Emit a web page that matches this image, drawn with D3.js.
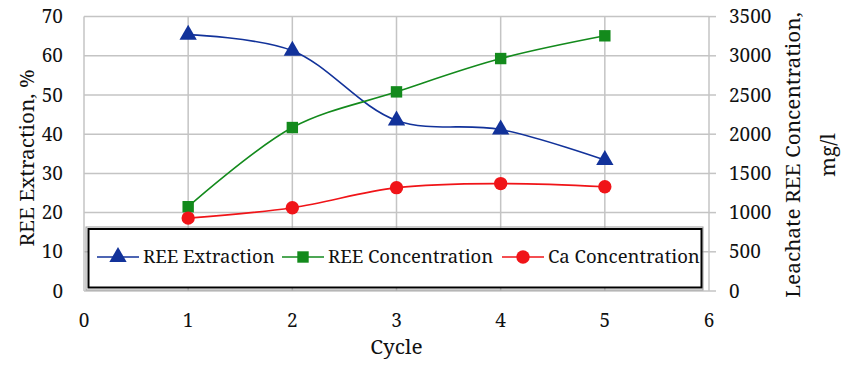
<!DOCTYPE html>
<html><head><meta charset="utf-8">
<script src="https://cdn.jsdelivr.net/npm/d3@7"></script>
<style>body{margin:0;background:#fff}svg{display:block}</style>
</head><body><svg id="c" width="841" height="369"></svg>
<script>
const cycles = [1, 2, 3, 4, 5];
const reeExtraction = [65.4, 61.3, 43.5, 41.2, 33.4];
const reeConcentration = [1075, 2085, 2540, 2965, 3255];
const caConcentration = [930, 1062, 1318, 1370, 1330];
const xTicks = [0, 1, 2, 3, 4, 5, 6];
const yLeftTicks = [0, 10, 20, 30, 40, 50, 60, 70];
const yRightTicks = [0, 500, 1000, 1500, 2000, 2500, 3000, 3500];
const seriesNames = ["REE Extraction", "REE Concentration", "Ca Concentration"];
const colors = ["#12329a", "#138a1c", "#f01418"];

const FONT = "'Noto Serif', 'Liberation Serif', serif";
const svg = d3.select("#c").attr("font-family", FONT);
const L = 84, R = 709, T = 16.6, B = 291;
const x = d3.scaleLinear().domain([0, 6]).range([L, R]);
const yL = d3.scaleLinear().domain([0, 70]).range([B, T]);
const yR = d3.scaleLinear().domain([0, 3500]).range([B, T]);
const grid = "#c4c4c4";

svg.append("g").selectAll("line").data(yLeftTicks).join("line")
  .attr("x1", L).attr("x2", R).attr("y1", d => yL(d)).attr("y2", d => yL(d))
  .attr("stroke", grid).attr("stroke-width", 1.5);
svg.append("g").selectAll("line").data(xTicks).join("line")
  .attr("x1", d => x(d)).attr("x2", d => x(d)).attr("y1", T).attr("y2", B)
  .attr("stroke", grid).attr("stroke-width", 1.5);
svg.append("g").selectAll("line").data(yRightTicks).join("line")
  .attr("x1", R).attr("x2", R + 7).attr("y1", d => yR(d)).attr("y2", d => yR(d))
  .attr("stroke", grid).attr("stroke-width", 1.5);

function txt(sel, size) { return sel.attr("font-family", FONT).attr("font-size", size).attr("fill", "#111"); }
const fsTick = 19, fsTitle = 20.8, fsLeg = 18.5;

txt(svg.append("g").selectAll("text").data(yLeftTicks).join("text"), fsTick)
  .attr("x", 63).attr("y", d => yL(d)).attr("dy", "0.35em").attr("text-anchor", "end").text(d => d);
txt(svg.append("g").selectAll("text").data(yRightTicks).join("text"), fsTick)
  .attr("x", 729).attr("y", d => yR(d)).attr("dy", "0.35em").attr("text-anchor", "start").text(d => d);
txt(svg.append("g").selectAll("text").data(xTicks).join("text"), fsTick)
  .attr("x", d => x(d)).attr("y", 320).attr("dy", "0.35em").attr("text-anchor", "middle").text(d => d);
txt(svg.append("text"), fsTitle).attr("x", x(3)).attr("y", 347).attr("dy", "0.35em").attr("text-anchor", "middle").text("Cycle");
txt(svg.append("text"), fsTitle).attr("transform", "translate(27,158) rotate(-90)").attr("dy", "0.35em")
  .attr("text-anchor", "middle").text("REE Extraction, %");
txt(svg.append("text"), fsTitle).attr("transform", "translate(793,155) rotate(-90)").attr("dy", "0.35em")
  .attr("text-anchor", "middle").text("Leachate REE Concentration,");
txt(svg.append("text"), fsTitle).attr("transform", "translate(828,155) rotate(-90)").attr("dy", "0.35em")
  .attr("text-anchor", "middle").text("mg/l");

const curve = d3.curveCatmullRom.alpha(0.5);
const series = [
  {vals: reeExtraction, y: yL, shape: d3.symbolTriangle, size: 130},
  {vals: reeConcentration, y: yR, shape: d3.symbolSquare, size: 130},
  {vals: caConcentration, y: yR, shape: d3.symbolCircle, size: 140}
];
series.forEach((s, i) => {
  const pts = cycles.map((c, j) => [x(c), s.y(s.vals[j])]);
  svg.append("path").attr("d", d3.line().curve(curve)(pts)).attr("fill", "none")
    .attr("stroke", colors[i]).attr("stroke-width", 1.6);
  svg.append("g").selectAll("path").data(pts).join("path")
    .attr("transform", d => `translate(${d[0]},${d[1]})`)
    .attr("d", d3.symbol().type(s.shape).size(s.size)()).attr("fill", colors[i]);
});

svg.append("rect").attr("x", 86).attr("y", 227).attr("width", 617).attr("height", 63)
  .attr("fill", "none").attr("stroke", "#999").attr("stroke-width", 1);
svg.append("rect").attr("x", 88.5).attr("y", 229).attr("width", 613).attr("height", 58.5)
  .attr("fill", "#fff").attr("stroke", "#000").attr("stroke-width", 2);
const legX = [97, 282, 502];
const ly = 257;
series.forEach((s, i) => {
  const g = svg.append("g");
  g.append("line").attr("x1", legX[i]).attr("x2", legX[i] + 42).attr("y1", ly).attr("y2", ly)
    .attr("stroke", colors[i]).attr("stroke-width", 1.6);
  g.append("path").attr("transform", `translate(${legX[i] + 21},${ly})`)
    .attr("d", d3.symbol().type(s.shape).size(s.size)()).attr("fill", colors[i]);
  txt(g.append("text"), fsLeg).attr("x", legX[i] + 46).attr("y", ly).attr("dy", "0.35em").text(seriesNames[i]);
});
</script></body></html>
